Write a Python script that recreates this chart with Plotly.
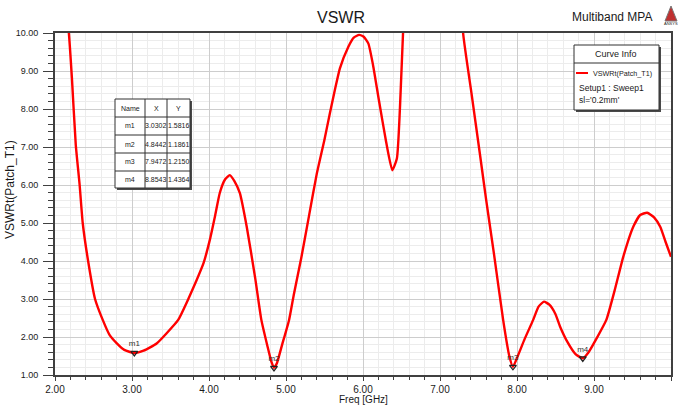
import plotly.graph_objects as go

# ---------------- data ----------------
freq_ghz = [2.00, 2.10, 2.18, 2.22, 2.27, 2.32, 2.36, 2.43, 2.52, 2.62, 2.71, 2.80, 2.90, 3.03,
            3.15, 3.32, 3.45, 3.60, 3.72, 3.84, 3.93, 4.01, 4.08, 4.14, 4.21, 4.27, 4.33, 4.40,
            4.49, 4.60, 4.68, 4.76, 4.81, 4.844, 4.88, 4.95, 5.04, 5.10, 5.20, 5.30, 5.40, 5.50,
            5.57, 5.64, 5.70, 5.81, 5.88, 5.95, 6.01, 6.07, 6.13, 6.21, 6.30, 6.38, 6.44, 6.48,
            6.52, 6.60, 6.80, 7.00, 7.20, 7.30, 7.41, 7.52, 7.60, 7.70, 7.82, 7.90, 7.947, 8.00,
            8.10, 8.21, 8.28, 8.35, 8.42, 8.50, 8.56, 8.66, 8.76, 8.854, 8.93, 9.03, 9.16, 9.27,
            9.38, 9.51, 9.60, 9.69, 9.78, 9.86, 9.93, 10.00]
vswr = [13.5, 11.5, 10.0, 8.8, 7.05, 6.0, 5.0, 4.0, 3.0, 2.45, 2.05, 1.84, 1.66, 1.58,
        1.64, 1.83, 2.10, 2.45, 2.95, 3.50, 3.95, 4.55, 5.20, 5.79, 6.15, 6.26, 6.10, 5.79,
        4.90, 3.55, 2.45, 1.75, 1.35, 1.19, 1.30, 1.80, 2.45, 3.10, 4.10, 5.20, 6.30, 7.20,
        7.89, 8.55, 9.07, 9.64, 9.88, 9.95, 9.90, 9.72, 9.16, 8.19, 7.14, 6.39, 6.70, 8.03,
        10.0, 13.0, 18.0, 19.0, 14.0, 10.0, 8.40, 6.79, 5.60, 4.20, 2.45, 1.50, 1.215, 1.45,
        1.95, 2.45, 2.80, 2.93, 2.85, 2.60, 2.27, 1.85, 1.55, 1.44, 1.60, 1.95, 2.45, 3.24,
        4.11, 4.90, 5.21, 5.27, 5.15, 4.90, 4.50, 4.11]

marker_names = ["m1", "m2", "m3", "m4"]
marker_x = [3.0302, 4.8442, 7.9472, 8.8543]
marker_y = [1.5816, 1.1861, 1.2150, 1.4364]

x_ticks = [2, 3, 4, 5, 6, 7, 8, 9, 10]
y_ticks = [1, 2, 3, 4, 5, 6, 7, 8, 9, 10]

table_header = ["Name", "X", "Y"]
legend_lines = ["VSWRt(Patch_T1)", "Setup1 : Sweep1", "sl='0.2mm'"]

# ---------------- layout helpers ----------------
W, H = 681, 409
L, R, T, B = 55, 10, 33, 34
PW, PH = W - L - R, H - T - B


def px(x):
    return (x - L) / PW


def py(y):
    return (H - B - y) / PH


FONT = "Liberation Sans, Arial, sans-serif"
TXT = "#1a1a1a"

fig = go.Figure()
fig.add_trace(go.Scatter(x=freq_ghz, y=vswr, mode="lines",
                         line=dict(color="#ff0000", width=2.4, shape="spline", smoothing=0.5),
                         hoverinfo="skip", showlegend=False))
fig.add_trace(go.Scatter(x=marker_x, y=marker_y, mode="markers+text",
                         text=marker_names, textposition="top center",
                         textfont=dict(family=FONT, size=8, color="#333333"),
                         marker=dict(symbol="triangle-down-open", size=6,
                                     color="#222222", line=dict(width=1.2)),
                         hoverinfo="skip", showlegend=False))

shapes = []
annotations = []


def box(x0, y0, x1, y1):
    shapes.append(dict(type="rect", xref="paper", yref="paper",
                       x0=px(x0 + 2), x1=px(x1 + 2), y0=py(y0 + 2), y1=py(y1 + 2),
                       fillcolor="#4a4a4a", line=dict(width=0)))
    shapes.append(dict(type="rect", xref="paper", yref="paper",
                       x0=px(x0), x1=px(x1), y0=py(y0), y1=py(y1),
                       fillcolor="white", line=dict(color="#303030", width=1)))


def hline(x0, x1, y, color="#303030", width=1):
    shapes.append(dict(type="line", xref="paper", yref="paper",
                       x0=px(x0), x1=px(x1), y0=py(y), y1=py(y),
                       line=dict(color=color, width=width)))


def vline(x, y0, y1, color="#303030", width=1):
    shapes.append(dict(type="line", xref="paper", yref="paper",
                       x0=px(x), x1=px(x), y0=py(y0), y1=py(y1),
                       line=dict(color=color, width=width)))


def text(x, y, s, size=9, xanchor="center", font=FONT, color=TXT, angle=0):
    annotations.append(dict(x=px(x), y=py(y), xref="paper", yref="paper", text=s,
                            showarrow=False, xanchor=xanchor, yanchor="middle",
                            textangle=angle,
                            font=dict(family=font, size=size, color=color)))


# marker table
tx0, tx1 = 115, 190
col_edges = [115, 145, 167, 190]
row_edges = [99, 117, 135, 153, 171, 188]
box(tx0, row_edges[0], tx1, row_edges[-1])
for ce in col_edges[1:-1]:
    vline(ce, row_edges[0], row_edges[-1])
for re_ in row_edges[1:-1]:
    hline(tx0, tx1, re_)
for j, h in enumerate(table_header):
    text((col_edges[j] + col_edges[j + 1]) / 2, (row_edges[0] + row_edges[1]) / 2, h, size=7)
for i in range(len(marker_names)):
    yc = (row_edges[i + 1] + row_edges[i + 2]) / 2
    vals = [marker_names[i], f"{marker_x[i]:.4f}", f"{marker_y[i]:.4f}"]
    for j, v in enumerate(vals):
        text((col_edges[j] + col_edges[j + 1]) / 2, yc, v, size=7)

# curve info box
box(574, 45, 659, 110)
hline(574, 659, 63)
text(616, 54, "Curve Info", size=9)
hline(576, 588, 73, color="#ff0000", width=2)
text(591, 73, legend_lines[0], size=7.2, xanchor="left")
text(577, 88, legend_lines[1], size=8.5, xanchor="left")
text(577, 100, legend_lines[2], size=8.5, xanchor="left")

# title, project name, logo, axis titles
text(341, 17, "VSWR", size=16)
text(612, 17, "Multiband MPA", size=12)
shapes.append(dict(type="path", xref="paper", yref="paper",
                   path=f"M {px(665)},{py(21)} L {px(671)},{py(6)} L {px(677)},{py(21)} Z",
                   fillcolor="#c03030", line=dict(color="#777777", width=1)))
text(671, 24, "ANSYS", size=4)
text(363, 399, "Freq [GHz]", size=10)
text(10, 190, "VSWRt(Patch_T1)", size=12, angle=-90)

fig.update_layout(
    width=W, height=H,
    margin=dict(l=L, r=R, t=T, b=B, pad=0),
    paper_bgcolor="white", plot_bgcolor="white",
    font=dict(family=FONT, color=TXT),
    shapes=shapes, annotations=annotations,
    xaxis=dict(range=[2, 10], tickvals=x_ticks, tickformat=".2f", automargin=False,
               showline=True, linecolor="#404040", linewidth=2, mirror=True,
               ticks="outside", ticklen=4, tickcolor="#404040", tickwidth=1,
               showgrid=True, gridcolor="#cdcdcd", gridwidth=1, zeroline=False,
               tickfont=dict(family=FONT, size=10, color=TXT),
               minor=dict(dtick=0.2, showgrid=True, gridcolor="#ececec", ticks="outside",
                          ticklen=3, tickcolor="#404040")),
    yaxis=dict(range=[1, 10], tickvals=y_ticks, tickformat=".2f", automargin=False,
               showline=True, linecolor="#404040", linewidth=2, mirror=True,
               ticks="outside", ticklen=10, tickcolor="#404040", tickwidth=1,
               showgrid=True, gridcolor="#cdcdcd", gridwidth=1, zeroline=False,
               tickfont=dict(family=FONT, size=9, color=TXT), ticklabelstandoff=3,
               minor=dict(dtick=0.2, showgrid=True, gridcolor="#ececec", ticks="outside",
                          ticklen=5, tickcolor="#404040")),
)

fig.write_html("out.html", config={"displayModeBar": False},
               post_script="document.body.style.margin='0';")
